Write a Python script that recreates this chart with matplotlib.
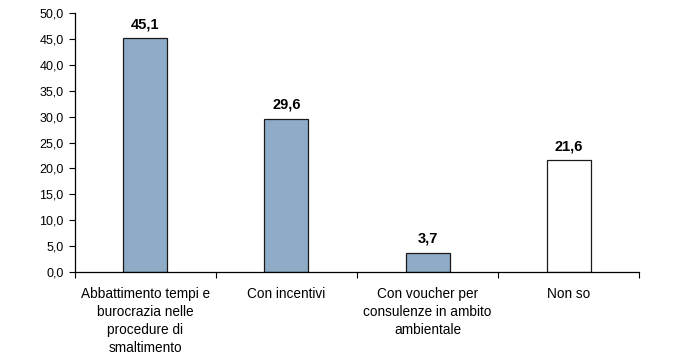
import matplotlib.pyplot as plt
import numpy as np

categories = [
    "Abbattimento tempi e\nburocrazia nelle\nprocedure di\nsmaltimento",
    "Con incentivi",
    "Con voucher per\nconsulenze in ambito\nambientale",
    "Non so",
]
values = [45.1, 29.6, 3.7, 21.6]
colors = ["#8eacc7", "#8eacc7", "#8eacc7", "white"]

plt.rcParams["font.family"] = ["Liberation Sans Narrow", "Liberation Sans", "DejaVu Sans"]

fig = plt.figure(figsize=(7, 3.59), dpi=100)
ax = fig.add_axes([0.107, 0.242, 0.806, 0.722])

x = np.arange(len(values))
ax.bar(x, values, width=0.312, color=colors, edgecolor="#1a1a1a", linewidth=0.9)

for xi, v in zip(x, values):
    ax.annotate(f"{v:.1f}".replace(".", ","), (xi, v), xytext=(0, 5),
                textcoords="offset points", ha="center", va="bottom",
                fontsize=10.5, fontweight="bold")

ax.set_xlim(-0.5, len(values) - 0.5)
ax.set_ylim(0, 50)
ax.set_yticks(np.arange(0, 51, 5))
ax.set_yticklabels([f"{t:.1f}".replace(".", ",") for t in np.arange(0, 51, 5)], fontsize=9)

# ticks between categories, labels centred under bars
ax.set_xticks(np.arange(-0.5, len(values), 1))
ax.set_xticklabels([])
ax.set_xticks(x, minor=True)
ax.set_xticklabels(categories, minor=True, fontsize=9.8, linespacing=1.35)
ax.tick_params(axis="x", which="minor", length=0, pad=11)
ax.tick_params(axis="x", which="major", length=4, direction="out")
ax.tick_params(axis="y", length=4, direction="out", pad=4)

for s in ["top", "right"]:
    ax.spines[s].set_visible(False)
for s in ["left", "bottom"]:
    ax.spines[s].set_linewidth(0.9)

fig.savefig("out.png", dpi=100)
